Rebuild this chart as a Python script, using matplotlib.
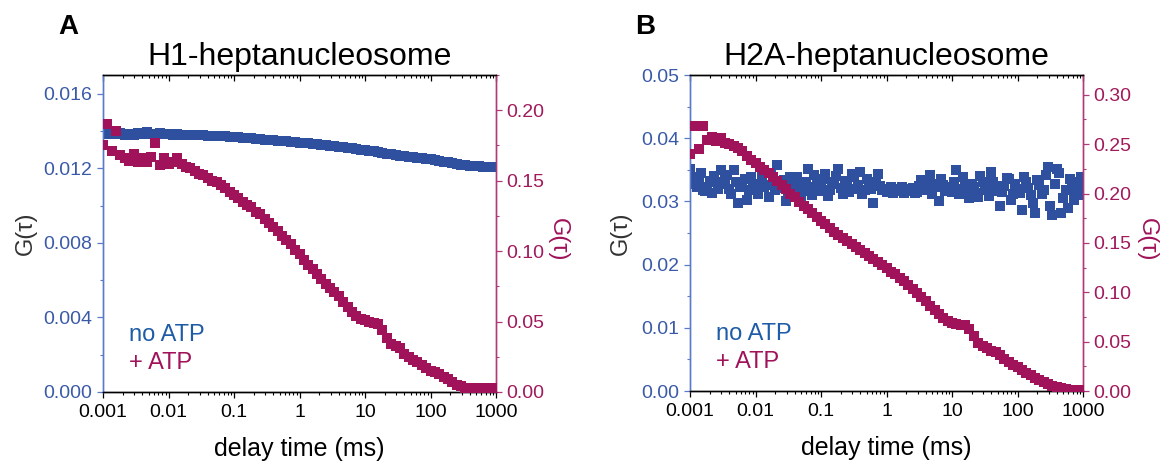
import matplotlib
matplotlib.use('Agg')
import matplotlib.pyplot as plt
import matplotlib.ticker as mticker

plt.rcParams['font.family'] = ['Liberation Sans', 'DejaVu Sans']

# lag times (ms), shared by all four curves
tau_ms = [
    0.00100, 0.00117, 0.00136, 0.00158, 0.00185, 0.00215, 0.00251, 0.00293, 0.00341, 0.00398,
    0.00464, 0.00541, 0.00631, 0.00736, 0.00858,
    0.0100, 0.0117, 0.0136, 0.0158, 0.0185, 0.0215, 0.0251, 0.0293, 0.0341, 0.0398,
    0.0464, 0.0541, 0.0631, 0.0736, 0.0858,
    0.100, 0.117, 0.136, 0.158, 0.185, 0.215, 0.251, 0.293, 0.341, 0.398,
    0.464, 0.541, 0.631, 0.736, 0.858,
    1.00, 1.17, 1.36, 1.58, 1.85, 2.15, 2.51, 2.93, 3.41, 3.98,
    4.64, 5.41, 6.31, 7.36, 8.58,
    10.0, 11.7, 13.6, 15.8, 18.5, 21.5, 25.1, 29.3, 34.1, 39.8,
    46.4, 54.1, 63.1, 73.6, 85.8,
    100, 117, 136, 158, 185, 215, 251, 293, 341, 398,
    464, 541, 631, 736, 858,
    1000]

# extra lag times between the above, used for the noisy H2A no-ATP curve
tau_mid_ms = [
    0.00108, 0.00126, 0.00147, 0.00171, 0.00200, 0.00233, 0.00271, 0.00316, 0.00369, 0.00430,
    0.00501, 0.00584, 0.00681, 0.00794, 0.00926,
    0.0108, 0.0126, 0.0147, 0.0171, 0.0200, 0.0233, 0.0271, 0.0316, 0.0369, 0.0430,
    0.0501, 0.0584, 0.0681, 0.0794, 0.0926,
    0.108, 0.126, 0.147, 0.171, 0.200, 0.233, 0.271, 0.316, 0.369, 0.430,
    0.501, 0.584, 0.681, 0.794, 0.926,
    1.08, 1.26, 1.47, 1.71, 2.00, 2.33, 2.71, 3.16, 3.69, 4.30,
    5.01, 5.84, 6.81, 7.94, 9.26,
    10.8, 12.6, 14.7, 17.1, 20.0, 23.3, 27.1, 31.6, 36.9, 43.0,
    50.1, 58.4, 68.1, 79.4, 92.6,
    108, 126, 147, 171, 200, 233, 271, 316, 369, 430,
    501, 584, 681, 794, 926]

# panel A, H1-heptanucleosome
h1_no_atp = [
    0.01392, 0.01385, 0.01398, 0.01382, 0.01390, 0.01380, 0.01386, 0.01378, 0.01388, 0.01384,
    0.01392, 0.01386, 0.01382, 0.01388, 0.01384,
    0.01384, 0.01380, 0.01383, 0.01379, 0.01380, 0.01377, 0.01378, 0.01376, 0.01377, 0.01375,
    0.01375, 0.01373, 0.01373, 0.01371, 0.01370,
    0.01368, 0.01366, 0.01364, 0.01362, 0.01360, 0.01358, 0.01356, 0.01354, 0.01352, 0.01350,
    0.01348, 0.01346, 0.01344, 0.01342, 0.01340,
    0.01338, 0.01336, 0.01334, 0.01332, 0.01329, 0.01327, 0.01324, 0.01321, 0.01318, 0.01315,
    0.01312, 0.01309, 0.01306, 0.01302, 0.01299,
    0.01298, 0.01294, 0.01290, 0.01286, 0.01282, 0.01278, 0.01275, 0.01272, 0.01268, 0.01265,
    0.01262, 0.01259, 0.01256, 0.01253, 0.01250,
    0.01247, 0.01243, 0.01239, 0.01235, 0.01231, 0.01227, 0.01224, 0.01220, 0.01217, 0.01214,
    0.01212, 0.01210, 0.01209, 0.01208, 0.01207,
    0.01206]

h1_atp = [
    0.175, 0.190, 0.171, 0.185, 0.168, 0.166, 0.164, 0.169, 0.163, 0.166,
    0.163, 0.167, 0.177, 0.161, 0.166,
    0.162, 0.163, 0.166, 0.162, 0.160, 0.159, 0.157, 0.155, 0.154, 0.152,
    0.150, 0.149, 0.147, 0.145, 0.142,
    0.140, 0.138, 0.135, 0.133, 0.131, 0.128, 0.126, 0.123, 0.120, 0.117,
    0.114, 0.111, 0.108, 0.105, 0.101,
    0.098, 0.094, 0.090, 0.087, 0.084, 0.080, 0.077, 0.074, 0.071, 0.068,
    0.064, 0.060, 0.057, 0.054, 0.052,
    0.051, 0.050, 0.049, 0.048, 0.044, 0.038, 0.034, 0.033, 0.031, 0.027,
    0.025, 0.023, 0.021, 0.019, 0.017,
    0.015, 0.014, 0.013, 0.011, 0.009, 0.007, 0.005, 0.004, 0.003, 0.0025,
    0.0025, 0.0022, 0.0025, 0.0022, 0.0025,
    0.0025]

# panel B, H2A-heptanucleosome
h2a_no_atp = [
    0.0352, 0.0328, 0.0336, 0.0318, 0.0322, 0.0313, 0.0330, 0.0349, 0.0334, 0.0320,
    0.0349, 0.0297, 0.0325, 0.0302, 0.0339,
    0.0318, 0.0328, 0.0322, 0.0307, 0.0330, 0.0357, 0.0325, 0.0300, 0.0339, 0.0320,
    0.0330, 0.0316, 0.0352, 0.0310, 0.0328,
    0.0322, 0.0344, 0.0318, 0.0330, 0.0352, 0.0312, 0.0325, 0.0344, 0.0320, 0.0347,
    0.0318, 0.0323, 0.0297, 0.0344, 0.0318,
    0.0315, 0.0323, 0.0316, 0.0318, 0.0314, 0.0317, 0.0321, 0.0315, 0.0334, 0.0318,
    0.0342, 0.0322, 0.0300, 0.0326, 0.0323,
    0.0315, 0.0349, 0.0320, 0.0328, 0.0305, 0.0322, 0.0307, 0.0330, 0.0318, 0.0347,
    0.0316, 0.0292, 0.0325, 0.0336, 0.0312,
    0.0320, 0.0286, 0.0330, 0.0310, 0.0281, 0.0326, 0.0318, 0.0355, 0.0278, 0.0352,
    0.0281, 0.0318, 0.0336, 0.0302, 0.0325,
    0.0310]

h2a_no_atp_mid = [
    0.0338, 0.0322, 0.0345, 0.0316, 0.0333, 0.0340, 0.0319, 0.0327, 0.0342, 0.0311,
    0.0330, 0.0322, 0.0336, 0.0318, 0.0327,
    0.0312, 0.0340, 0.0326, 0.0345, 0.0318, 0.0321, 0.0334, 0.0314, 0.0327, 0.0339,
    0.0305, 0.0331, 0.0323, 0.0341, 0.0316,
    0.0336, 0.0309, 0.0328, 0.0340, 0.0321, 0.0333, 0.0315, 0.0338, 0.0326, 0.0312,
    0.0335, 0.0320, 0.0330, 0.0325, 0.0319,
    0.0320, 0.0313, 0.0319, 0.0322, 0.0316, 0.0320, 0.0314, 0.0324, 0.0318, 0.0331,
    0.0312, 0.0327, 0.0335, 0.0316, 0.0322,
    0.0330, 0.0312, 0.0338, 0.0321, 0.0327, 0.0313, 0.0340, 0.0322, 0.0309, 0.0331,
    0.0324, 0.0315, 0.0337, 0.0303, 0.0328,
    0.0314, 0.0339, 0.0321, 0.0298, 0.0334, 0.0312, 0.0341, 0.0293, 0.0327, 0.0345,
    0.0306, 0.0290, 0.0331, 0.0318, 0.0338]

h2a_atp = [
    0.240, 0.268, 0.245, 0.268, 0.254, 0.257, 0.253, 0.256, 0.251, 0.250,
    0.248, 0.246, 0.243, 0.238, 0.234,
    0.231, 0.227, 0.224, 0.221, 0.217, 0.213, 0.209, 0.205, 0.200, 0.196,
    0.191, 0.187, 0.184, 0.180, 0.176,
    0.172, 0.169, 0.165, 0.161, 0.158, 0.155, 0.152, 0.149, 0.146, 0.143,
    0.140, 0.137, 0.134, 0.131, 0.128,
    0.125, 0.121, 0.118, 0.114, 0.111, 0.107, 0.103, 0.099, 0.095, 0.091,
    0.086, 0.082, 0.078, 0.074, 0.071,
    0.069, 0.068, 0.067, 0.067, 0.063, 0.056, 0.049, 0.046, 0.044, 0.041,
    0.039, 0.036, 0.032, 0.029, 0.026,
    0.024, 0.021, 0.018, 0.016, 0.013, 0.011, 0.009, 0.007, 0.005, 0.004,
    0.003, 0.002, 0.0015, 0.001, 0.001,
    0.0008]

xticks = [0.001, 0.01, 0.1, 1, 10, 100, 1000]
xticklabels = ['0.001', '0.01', '0.1', '1', '10', '100', '1000']

blue = '#2f4f9f'
blue_txt = '#3a5aa8'
blue_leg = '#1f5ca8'
blue_spine = '#5b7bc9'
mag = '#a0125a'
mag_txt = '#a01a5c'
mag_spine = '#b03a78'
gray = '#333333'

fig = plt.figure(figsize=(11.65, 4.63), dpi=100)

panels = [
    dict(rect=[103 / 1165, 71 / 463, 393 / 1165, 317 / 463], letter='A', letx=-0.087,
         title='H1-heptanucleosome', y1=[(tau_ms, h1_no_atp)], y2=h1_atp,
         ylim1=(0, 0.017), major1=0.004, minor1=0.002, fmt1='%.3f',
         ylim2=(0, 0.225), lab1x=-0.168, lab2x=1.158),
    dict(rect=[690 / 1165, 72 / 463, 393 / 1165, 316 / 463], letter='B', letx=-0.115,
         title='H2A-heptanucleosome',
         y1=[(tau_ms, h2a_no_atp), (tau_mid_ms, h2a_no_atp_mid)], y2=h2a_atp,
         ylim1=(0, 0.05), major1=0.01, minor1=0.005, fmt1='%.2f',
         ylim2=(0, 0.32), lab1x=-0.148, lab2x=1.163),
]

for p in panels:
    ax = fig.add_axes(p['rect'])
    ax2 = ax.twinx()

    for xs, ys in p['y1']:
        ax.plot(xs, ys, 's', color=blue, ms=7.5, mew=0, zorder=3)
    ax2.plot(tau_ms, p['y2'], 's', color=mag, ms=7.5, mew=0, zorder=3)

    ax.set_xscale('log')
    ax.set_xlim(0.001, 1000)
    ax.set_xticks(xticks)
    ax.set_xticklabels(xticklabels)
    ax.xaxis.set_minor_locator(mticker.LogLocator(base=10, subs=range(2, 10), numticks=20))
    ax.xaxis.set_minor_formatter(mticker.NullFormatter())

    ax.set_ylim(*p['ylim1'])
    ax.yaxis.set_major_locator(mticker.MultipleLocator(p['major1']))
    ax.yaxis.set_minor_locator(mticker.MultipleLocator(p['minor1']))
    ax.yaxis.set_major_formatter(mticker.FormatStrFormatter(p['fmt1']))

    ax2.set_ylim(*p['ylim2'])
    ax2.yaxis.set_major_locator(mticker.MultipleLocator(0.05))
    ax2.yaxis.set_minor_locator(mticker.MultipleLocator(0.025))
    ax2.yaxis.set_major_formatter(mticker.FormatStrFormatter('%.2f'))

    # bottom ticks outward, top ticks inward
    ax.tick_params(axis='x', which='both', bottom=True, top=False, direction='out',
                   labelsize=14, colors='black', pad=4)
    ax.tick_params(axis='x', which='major', length=4.5, width=0.9)
    ax.tick_params(axis='x', which='minor', length=2.5, width=0.8)
    ax2.xaxis.set_visible(True)
    ax2.tick_params(axis='x', which='both', bottom=False, top=True, labelbottom=False,
                    labeltop=False, direction='in')
    ax2.tick_params(axis='x', which='major', length=4.5, width=0.9)
    ax2.tick_params(axis='x', which='minor', length=2.5, width=0.8)

    ax.tick_params(axis='y', which='both', direction='out', colors=blue_spine,
                   labelcolor=blue_txt, labelsize=14, pad=3)
    ax.tick_params(axis='y', which='major', length=4.5, width=0.9)
    ax.tick_params(axis='y', which='minor', length=2.5, width=0.8)
    ax2.tick_params(axis='y', which='both', direction='out', colors=mag_spine,
                    labelcolor=mag_txt, labelsize=14, pad=3)
    ax2.tick_params(axis='y', which='major', length=4.5, width=0.9)
    ax2.tick_params(axis='y', which='minor', length=2.5, width=0.8)

    for a in (ax, ax2):
        a.spines['left'].set_color(blue_spine)
        a.spines['right'].set_color(mag_spine)
        a.spines['top'].set_color('black')
        a.spines['bottom'].set_color('black')
        for s in a.spines.values():
            s.set_linewidth(1.0)

    ax.set_ylabel('G(τ)', fontsize=17, color=gray)
    ax.yaxis.set_label_coords(p['lab1x'], 0.5)
    ax2.set_ylabel('G(τ)', fontsize=17, color=mag, rotation=270, va='center')
    ax2.yaxis.set_label_coords(p['lab2x'], 0.48)
    ax.set_xlabel('delay time (ms)', fontsize=18, labelpad=12)

    ax.set_title(p['title'], fontsize=23, pad=7)
    ax.text(0.065, 0.18, 'no ATP', transform=ax.transAxes, fontsize=17,
            color=blue_leg, va='center', ha='left')
    ax.text(0.065, 0.092, '+ ATP', transform=ax.transAxes, fontsize=17,
            color=mag, va='center', ha='left')
    ax.text(p['letx'], 1.151, p['letter'], transform=ax.transAxes, fontsize=20,
            fontweight='bold', va='center', ha='center')

fig.savefig('out.png', dpi=100)
